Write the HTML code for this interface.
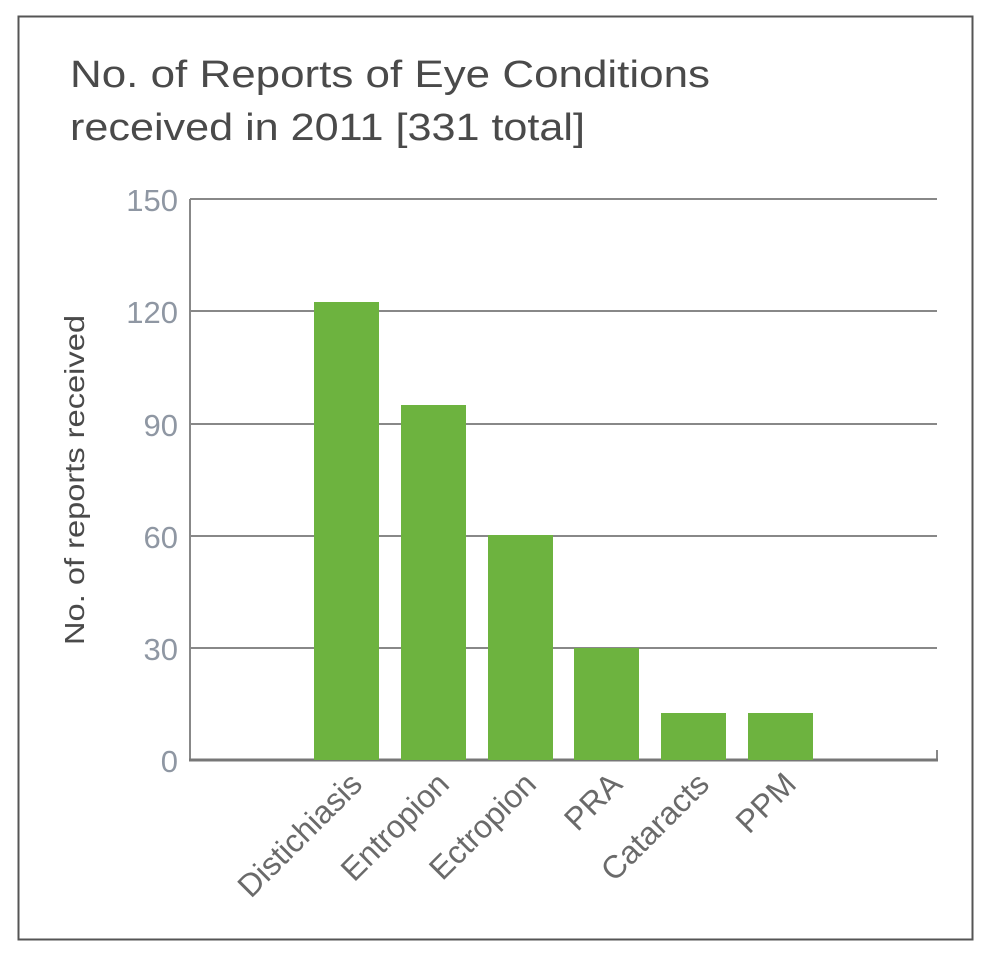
<!DOCTYPE html><html><head><style>body{margin:0;background:#fff}</style></head><body>
<svg width="1000" height="961" xmlns="http://www.w3.org/2000/svg" font-family="Liberation Sans, sans-serif">
<rect x="18.5" y="16.5" width="954" height="923" fill="#fff" stroke="#555" stroke-width="2"/>
<text x="70" y="87" font-size="38" fill="#4a4a4a" textLength="640" lengthAdjust="spacingAndGlyphs">No. of Reports of Eye Conditions</text>
<text x="70" y="140" font-size="38" fill="#4a4a4a" textLength="515" lengthAdjust="spacingAndGlyphs">received in 2011 [331 total]</text>
<g stroke="#888" stroke-width="2">
<line x1="190" y1="199" x2="937" y2="199"/>
<line x1="190" y1="311" x2="937" y2="311"/>
<line x1="190" y1="424" x2="937" y2="424"/>
<line x1="190" y1="536" x2="937" y2="536"/>
<line x1="190" y1="648" x2="937" y2="648"/>
<line x1="190" y1="199" x2="190" y2="761"/>
<line x1="937" y1="750" x2="937" y2="761"/>
</g>
<line x1="189" y1="760" x2="938" y2="760" stroke="#777" stroke-width="3"/>
<g fill="#6db33f">
<rect x="314" y="302" width="65" height="458"/>
<rect x="401" y="405" width="65" height="355"/>
<rect x="488" y="535" width="65" height="225"/>
<rect x="574" y="648" width="65" height="112"/>
<rect x="661" y="713" width="65" height="47"/>
<rect x="748" y="713" width="65" height="47"/>
</g>
<g font-size="31" fill="#8f97a3" text-anchor="end">
<text x="178" y="211">150</text><text x="178" y="323">120</text><text x="178" y="436">90</text>
<text x="178" y="548">60</text><text x="178" y="660">30</text><text x="178" y="772">0</text>
</g>
<text transform="translate(84,480) rotate(-90)" font-size="28" fill="#4a4a4a" text-anchor="middle" textLength="330" lengthAdjust="spacingAndGlyphs">No. of reports received</text>
<g font-size="32" fill="#6a6a6a" text-anchor="end">
<text transform="translate(364,786) rotate(-45)">Distichiasis</text>
<text transform="translate(451,786) rotate(-45)">Entropion</text>
<text transform="translate(538,786) rotate(-45)">Ectropion</text>
<text transform="translate(624,786) rotate(-45)">PRA</text>
<text transform="translate(711,786) rotate(-45)">Cataracts</text>
<text transform="translate(798,786) rotate(-45)">PPM</text>
</g>
</svg></body></html>
